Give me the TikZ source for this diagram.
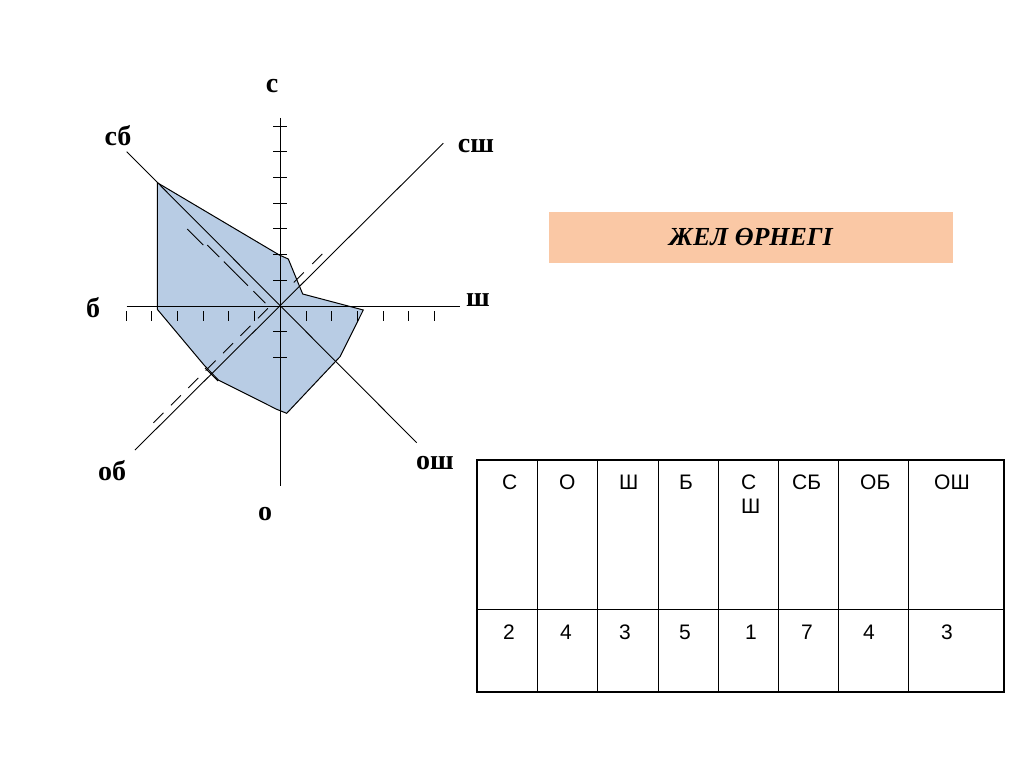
\documentclass[tikz,border=0pt]{standalone}
\usepackage{fontspec}
\setmainfont{Liberation Serif}
\newfontfamily\hsans{Liberation Sans}
\begin{document}
\begin{tikzpicture}[x=1pt,y=-1pt,
  axis/.style={line width=0.9pt},
  tk/.style={line width=0.9pt},
  dirlab/.style={font=\fontsize{28}{30}\selectfont\bfseries},
  cell/.style={font=\hsans\fontsize{21}{24}\selectfont, anchor=north west, inner sep=0pt, align=left},
  tbl/.style={line width=1.2pt}]
\useasboundingbox (0,0) rectangle (1024,767);
\coordinate (O) at (280.3,306);
% polygon
\fill[fill={rgb,255:red,184;green,204;blue,228}] (157.3,182.7) -- (279.3,255) -- (288.3,259) -- (302.7,294) -- (363.3,310) -- (340,356.7) -- (286.7,413.3) -- (276.7,409.3) -- (218.3,380) -- (204,365) -- (157.3,309.3) -- cycle;
% axes
\coordinate (N) at (280.3,118); \coordinate (S) at (280.3,486);
\coordinate (W) at (126.7,306); \coordinate (E) at (460,306);
\coordinate (NW) at (126.7,151.7); \coordinate (NE) at (443.3,143.3);
\coordinate (SE) at (416.7,442.7); \coordinate (SW) at (135,450);
\draw[axis] (N) -- (S);
\draw[axis] (W) -- (E);
\draw[axis] (NW) -- (SE);
\draw[axis] (SW) -- (NE);
% ticks
\foreach \k in {1,2} \draw[tk] ([xshift=-7pt,yshift={-25.7*\k}]O) -- ++(14,0);
\foreach \k in {1,...,7} \draw[tk] ([xshift=-7pt,yshift={25.7*\k}]O) -- ++(14,0);
\foreach \k in {1,...,6} {\draw[tk] ([xshift={-25.7*\k},yshift=-5pt]O) -- ++(0,10);
  \draw[tk] ([xshift={25.7*\k},yshift=-5pt]O) -- ++(0,10);}
\foreach \k in {1,...,7} \draw[tk] ([xshift={-17.4*\k-5},yshift={-17.4*\k+5}]O) -- ++(10,-10);
\foreach \k in {1,2} \draw[tk] ([xshift={18.5*\k-5},yshift={18.5*\k+5}]O) -- ++(10,-10);
\foreach \k in {1.2,2.2,2.9,3.85} \draw[tk] ([xshift={-17.4*\k-6},yshift={17.4*\k-6}]O) -- ++(12,12);
\draw[tk] ([xshift={-85-8},yshift={85-8}]O) -- ++(16,16);
\draw[tk] (205,368) -- (218,381);
% polygon outline
\draw[line width=1pt] (157.3,182.7) -- (279.3,255) -- (288.3,259) -- (302.7,294) -- (363.3,310) -- (340,356.7) -- (286.7,413.3) -- (276.7,409.3) -- (218.3,380) -- (204,365) -- (157.3,309.3) -- cycle;
% labels
\node[dirlab] (lc) at (272,86) {с};
\node[dirlab] (lsb) at (118,136) {сб};
\node[dirlab] (lsh2) at (476,146) {сш};
\node[dirlab] (lsh) at (478,300) {ш};
\node[dirlab] (lb) at (93,308) {б};
\node[dirlab] (lob) at (112,471) {об};
\node[dirlab] (losh) at (435,463) {ош};
\node[dirlab] (lo) at (265,514) {о};
% title
\node[fill={rgb,255:red,250;green,200;blue,165}, minimum width=404pt, minimum height=51pt, font=\fontsize{26}{28}\selectfont\bfseries\itshape] (title) at (751,237.5) {ЖЕЛ ӨРНЕГІ};
% table
\draw[tbl] (537.7,460) -- (537.7,692) (597.7,460) -- (597.7,692) (658.3,460) -- (658.3,692)
  (718.3,460) -- (718.3,692) (778.3,460) -- (778.3,692) (838.3,460) -- (838.3,692)
  (908.3,460) -- (908.3,692) (477,609.3) -- (1004,609.3);
\draw[line width=2.8pt] (477,460) rectangle (1004,692);
\foreach \x/\t in {502/С,559/О,619/Ш,679/Б,741/С\\Ш,792/СБ,860/ОБ,934/ОШ}
  \node[cell] at (\x,475) {\t};
\foreach \x/\t in {503/2,560/4,619/3,679/5,745/1,801/7,863/4,941/3}
  \node[cell] at (\x,625) {\t};
\end{tikzpicture}
\end{document}
